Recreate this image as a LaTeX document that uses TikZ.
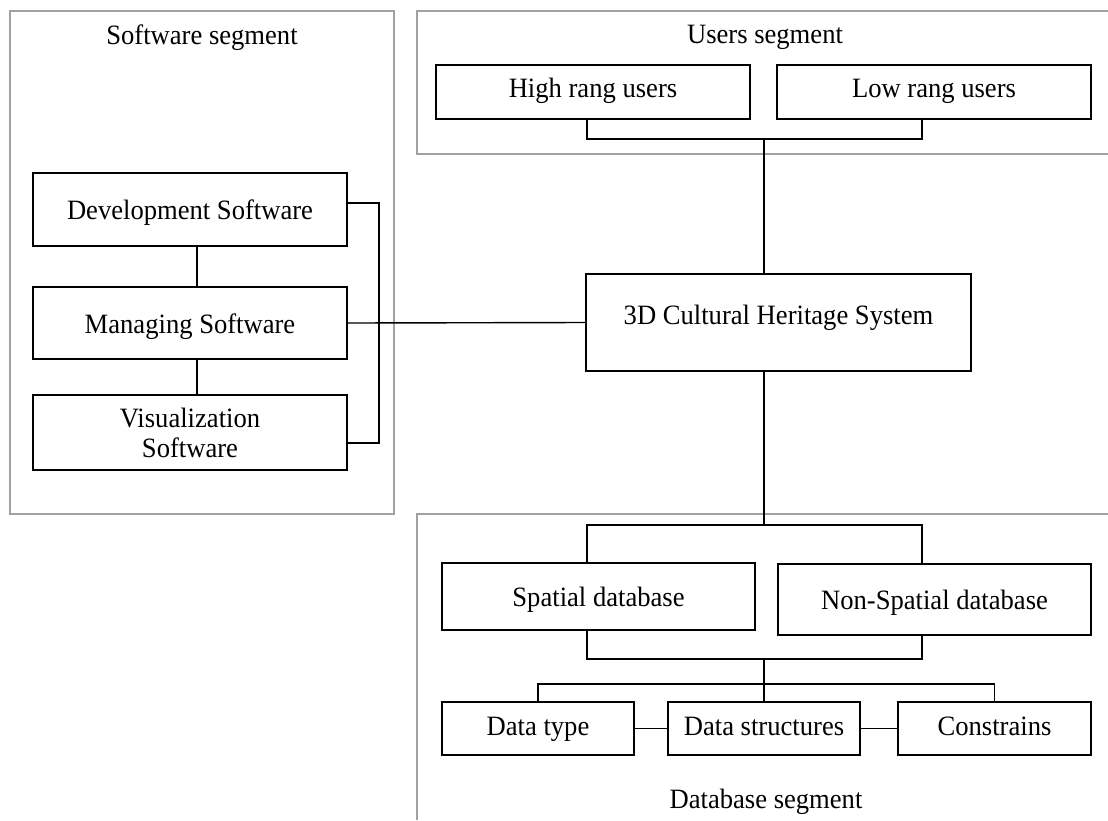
\documentclass[tikz,border=0pt]{standalone}
\usepackage{fontspec}
\setmainfont{Liberation Serif}[FakeStretch=0.95]
\usepackage{tikz}
\usetikzlibrary{positioning,calc}

\begin{document}
\begin{tikzpicture}[x=1pt,y=-1pt,
  boxbase/.style={draw,line width=1.4pt,inner sep=0pt,align=center,
    font=\fontsize{28}{30}\selectfont},
  box/.style={boxbase,text height=20pt,text depth=#1},
  box/.default=0pt,
  segment/.style={draw=black!37,line width=1.4pt},
  seglabel/.style={anchor=base,font=\fontsize{28}{30}\selectfont},
  link/.style={line width=1.4pt}]
\useasboundingbox (0,0) rectangle (1108,820);

% segments
\draw[segment] (10,11) rectangle (394,514);
\draw[segment] (1108,11) -- (417,11) -- (417,154) -- (1108,154);
\draw[segment] (1108,514) -- (417,514) -- (417,820);
\node[seglabel] (softlbl) at (202,44) {Software segment};
\node[seglabel] (userlbl) at (765,43) {Users segment};
\node[seglabel] (dblbl) at (766,808) {Database segment};

% software
\node[box,minimum width=314,minimum height=73] (dev) at (190,209.5) {Development Software};
\node[box,minimum width=314,minimum height=72] (mng) at (190,323) {Managing Software};
\node[boxbase,minimum width=314,minimum height=75] (vis) at (190,432.5) {Visualization\\Software};

% system
\node[box=16.4pt,minimum width=385,minimum height=97] (sys) at (778.5,322.5) {3D Cultural Heritage System};

% users
\node[box=8.6pt,minimum width=314,minimum height=54] (high) at (593,92) {High rang users};
\node[box=8.6pt,minimum width=314,minimum height=54] (low) at (934,92) {Low rang users};

% database
\node[box,minimum width=313,minimum height=67] (spatial) at (598.5,596.5) {Spatial database};
\node[box=1pt,minimum width=313,minimum height=71] (nonsp) at (934.5,599.5) {Non-Spatial database};
\node[box=7pt,minimum width=192,minimum height=53] (dtype) at (538,728.5) {Data type};
\node[box=7pt,minimum width=192,minimum height=53] (dstruct) at (764,728.5) {Data structures};
\node[box=7pt,minimum width=193,minimum height=53] (constr) at (994.5,728.5) {Constrains};

\coordinate (rbar) at (379,0);
\coordinate (ujoin) at (764,139);
\coordinate (dtop) at (764,525);
\coordinate (dmid) at (764,659);
\coordinate (dlow) at (764,684);

% connectors
\draw[link] ([xshift=7pt]dev.south) -- ([xshift=7pt]mng.north);
\draw[link] ([xshift=7pt]mng.south) -- ([xshift=7pt]vis.north);
\draw[link] ([yshift=6.5pt]dev.east) -| (rbar |- vis.east) |- ([yshift=-10.5pt]vis.east);
\draw[link] (mng.east) -- (sys.west);
\draw[link] ([xshift=-6pt]high.south) |- (ujoin) -| ([xshift=-12pt]low.south);
\draw[link] (ujoin) -- (ujoin |- sys.north);
\draw[link] (dtop |- sys.south) -- (dtop);
\draw[link] ([xshift=-11.5pt]spatial.north) |- (dtop) -| ([xshift=-12.5pt]nonsp.north);
\draw[link] ([xshift=-11.5pt]spatial.south) |- (dmid) -| ([xshift=-12.5pt]nonsp.south);
\draw[link] (dmid) -- (dstruct.north);
\draw[link] (dtype.north) |- (dlow) -| (constr.north);
\draw[link] (dtype.east) -- (dstruct.west);
\draw[link] (dstruct.east) -- (constr.west);
\end{tikzpicture}
\end{document}
